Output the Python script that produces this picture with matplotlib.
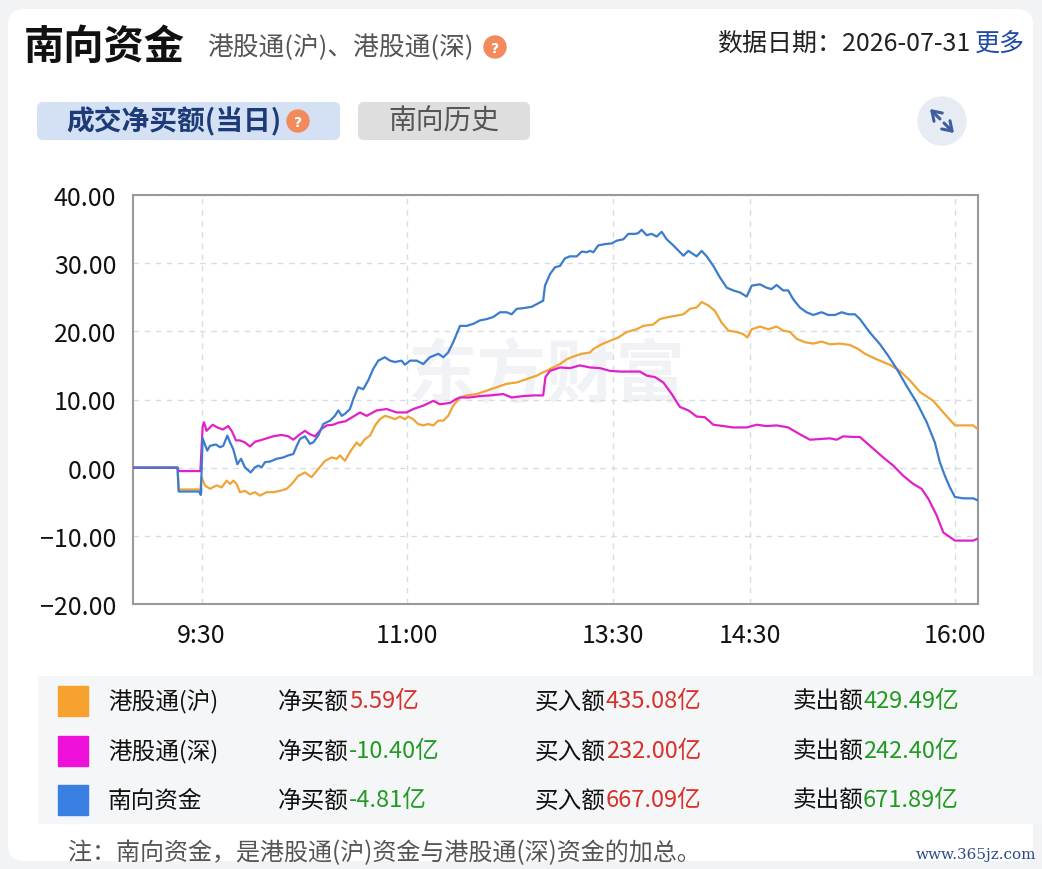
import matplotlib
matplotlib.use("Agg")
import matplotlib.pyplot as plt
from matplotlib.patches import FancyBboxPatch, Circle, Rectangle
from matplotlib.ticker import FuncFormatter

plt.rcParams['font.family'] = ['Noto Sans CJK SC', 'DejaVu Sans']

# x = 交易分钟序号, 0 = 9:00, 午休(12:00-13:00)被压缩, 370 = 16:10
x_ticks = [30, 120, 210, 270, 360]
x_tick_labels = ['9:30', '11:00', '13:30', '14:30', '16:00']
y_ticks = [-20, -10, 0, 10, 20, 30, 40]

# 港股通(沪)
sh_t = [0, 19.5, 20, 29.5, 30, 31.5, 33.7, 36.6, 38.8, 41.0,
        42.5, 43.9, 45.4, 46.8, 49.0, 51.2, 53.4, 55.6, 58.5, 61.4,
        64.4, 67.3, 69.5, 72.4, 75.3, 78.2, 81.1, 84.1, 87.0, 89.2,
        90.6, 92.8, 95.0, 97.9, 99.4, 101.6, 103.8, 106.0, 108.1, 110.3,
        112.5, 114.7, 116.9, 119.1, 120.5, 122.7, 124.9, 127.1, 129.3, 131.5,
        133.7, 135.9, 138.0, 140.2, 143.2, 146.1, 150.5, 154.9, 159.2, 163.6,
        168.0, 172.4, 176.8, 179.6, 181.1, 184.0, 187.0, 189.9, 192.8, 196.5,
        200.1, 201.6, 205.2, 208.8, 212.5, 216.2, 220.5, 223.4, 227.8, 230.7,
        234.4, 238.0, 241.0, 243.9, 246.8, 249.0, 251.9, 254.8, 257.7, 260.7,
        264.3, 267.2, 269.0, 270.9, 274.5, 278.2, 281.8, 284.7, 287.7, 290.6,
        294.2, 297.9, 301.5, 305.2, 309.5, 313.9, 317.6, 320.5, 325.6, 331.4,
        335.8, 340.2, 344.6, 350.4, 354.8, 359.9, 363.5, 367.9, 370]
sh_v = [0, 0, -3.2, -3.2, -1.4, -2.6, -3.1, -2.6, -2.9, -1.9,
        -2.4, -1.9, -2.4, -3.6, -3.4, -3.9, -3.6, -4.1, -3.6, -3.6,
        -3.4, -3.1, -2.4, -1.2, -0.7, -1.4, -0.2, 1.0, 1.5, 1.3,
        1.8, 1.0, 2.3, 3.7, 3.2, 4.2, 4.7, 6.2, 7.1, 7.6,
        7.4, 7.1, 7.5, 7.1, 7.5, 7.1, 6.4, 6.2, 6.4, 6.2,
        6.9, 6.9, 7.6, 9.1, 10.3, 10.6, 10.8, 11.3, 11.8, 12.3,
        12.5, 13.0, 13.5, 14.0, 14.2, 14.7, 15.2, 15.9, 16.3, 16.7,
        16.9, 17.4, 18.1, 18.6, 19.1, 19.9, 20.3, 20.8, 21.0, 21.8,
        22.1, 22.3, 22.5, 23.3, 23.5, 24.3, 23.8, 23.0, 21.3, 20.1,
        19.9, 19.6, 19.1, 20.3, 20.7, 20.3, 20.7, 20.1, 19.9, 18.9,
        18.4, 18.2, 18.5, 18.1, 18.2, 18.0, 17.4, 16.7, 15.9, 15.1,
        14.2, 12.8, 11.1, 9.8, 8.1, 6.2, 6.2, 6.2, 5.59]

# 港股通(深)
sz_t = [0, 19.5, 20, 29.5, 30.5, 31.1, 32.2, 34.9, 36.9, 39.3,
        41.7, 43.2, 45.1, 46.8, 49.0, 51.2, 53.4, 55.6, 58.5, 61.4,
        65.1, 68.0, 70.2, 73.1, 75.3, 77.5, 79.7, 82.6, 84.8, 87.7,
        89.9, 93.0, 96.5, 99.4, 102.3, 106.7, 111.1, 115.5, 119.8, 122.7,
        127.1, 131.5, 134.4, 138.8, 141.7, 143.2, 147.5, 151.9, 156.3, 162.1,
        165.8, 170.9, 175.3, 179.6, 180.6, 182.6, 187.0, 191.3, 195.7, 200.1,
        204.5, 208.8, 213.2, 217.6, 222.0, 224.9, 228.5, 232.2, 235.9, 239.5,
        243.2, 246.8, 250.4, 254.1, 258.5, 262.8, 268.7, 273.1, 277.4, 281.8,
        286.9, 292.0, 296.4, 300.8, 305.2, 308.1, 311.0, 315.4, 318.3, 322.7,
        328.5, 332.9, 337.3, 341.7, 345.3, 348.3, 351.9, 354.8, 359.9, 365.0, 367.9, 370]
sz_v = [0, 0, -0.5, -0.5, 6.0, 6.65, 5.4, 6.3, 5.9, 5.6,
        6.1, 5.4, 4.0, 4.0, 3.7, 3.1, 3.8, 4.0, 4.3, 4.6,
        4.8, 4.6, 4.1, 4.9, 5.4, 4.9, 4.6, 5.7, 6.2, 6.3,
        6.6, 6.8, 7.5, 8.1, 7.6, 8.4, 8.6, 8.1, 8.1, 8.6,
        9.1, 9.8, 9.3, 9.5, 10.1, 10.3, 10.3, 10.5, 10.6, 10.8,
        10.3, 10.5, 10.6, 10.6, 13.3, 14.2, 14.7, 14.6, 15.0, 14.7,
        14.6, 14.2, 14.1, 14.1, 14.1, 13.5, 13.3, 12.5, 10.8, 8.9,
        8.4, 7.5, 7.4, 6.3, 6.1, 5.9, 5.9, 6.3, 6.1, 6.2,
        5.9, 4.9, 4.1, 4.2, 4.3, 4.1, 4.6, 4.5, 4.5, 3.2,
        1.5, 0.3, -1.2, -2.4, -3.1, -4.6, -7.0, -9.5, -10.7, -10.7, -10.7, -10.40]

# 南向资金
nb_t = [0, 19.5, 20, 29.0, 29.7, 30.5, 32.5, 33.7, 36.3, 38.1,
        39.5, 41.3, 42.5, 43.9, 45.7, 47.3, 49.0, 51.5, 53.4, 54.9,
        56.3, 57.8, 60.0, 62.9, 65.8, 68.0, 70.2, 71.7, 73.1, 75.3,
        77.5, 78.9, 81.1, 83.3, 86.3, 88.4, 89.9, 91.4, 92.8, 95.0,
        96.5, 98.6, 100.8, 103.0, 105.2, 107.4, 110.3, 112.5, 114.7, 117.6,
        119.1, 121.3, 124.2, 127.1, 130.0, 133.7, 135.9, 138.0, 140.2, 143.2,
        146.1, 149.0, 151.9, 154.9, 157.7, 160.7, 163.6, 165.8, 168.0, 170.9,
        174.6, 176.8, 179.6, 180.4, 182.6, 184.8, 187.0, 189.1, 191.3, 194.3,
        196.5, 198.6, 200.1, 201.6, 203.7, 206.7, 209.6, 211.8, 214.7, 216.9,
        219.8, 221.2, 222.7, 224.9, 227.1, 229.3, 231.5, 233.7, 236.6, 241.0,
        243.2, 246.8, 249.0, 251.2, 254.1, 257.0, 260.0, 262.8, 265.8, 268.7,
        270.9, 274.5, 277.4, 279.6, 281.8, 284.7, 286.9, 289.1, 292.0, 294.9,
        297.9, 301.5, 304.4, 307.4, 310.3, 313.2, 316.1, 318.3, 322.7, 327.1,
        330.7, 334.4, 338.7, 343.1, 347.5, 351.1, 353.3, 355.5, 357.7, 359.9, 363.5, 367.9, 370]
nb_v = [0, 0, -3.5, -3.5, -4.0, 4.3, 2.5, 3.2, 3.4, 3.0,
        3.2, 4.7, 3.7, 2.7, 0.5, 1.3, 0.05, -0.7, 0.05, 0.3,
        0.05, 0.8, 0.9, 1.3, 1.5, 1.8, 2.0, 3.2, 4.2, 4.6,
        3.5, 3.7, 4.7, 6.4, 6.9, 7.6, 8.4, 7.6, 7.9, 8.6,
        10.1, 11.8, 11.5, 12.8, 14.5, 15.7, 16.2, 15.7, 15.5, 15.7,
        15.1, 15.7, 15.7, 15.2, 16.2, 16.7, 16.2, 16.9, 18.4, 20.8,
        20.8, 21.1, 21.6, 21.8, 22.1, 22.8, 22.8, 22.5, 23.3, 23.4,
        23.6, 24.0, 24.5, 26.7, 28.4, 29.4, 29.6, 30.7, 31.0, 31.0,
        31.7, 31.6, 31.8, 31.6, 32.6, 32.8, 32.9, 33.3, 33.5, 34.3,
        34.3, 34.4, 34.9, 34.1, 34.3, 33.9, 34.6, 33.5, 32.6, 31.1,
        31.8, 31.0, 31.8, 31.0, 29.6, 27.9, 26.4, 26.0, 25.7, 25.1,
        26.7, 26.9, 26.4, 26.2, 26.8, 26.0, 26.0, 24.7, 23.5, 22.8,
        22.4, 22.8, 22.4, 22.4, 22.8, 22.5, 22.5, 21.8, 19.8, 18.1,
        16.4, 14.5, 12.0, 9.6, 6.7, 3.7, 0.8, -1.2, -2.9, -4.3, -4.5, -4.5, -4.81]

# 下方表格
names = ['港股通(沪)', '港股通(深)', '南向资金']
net_buy = [5.59, -10.40, -4.81]
buy_amt = [435.08, 232.00, 667.09]
sell_amt = [429.49, 242.40, 671.89]

line_colors = ['#f0a436', '#e020c8', '#3b7ccc']
box_colors = ['#f7a22e', '#ee10d8', '#3a80e2']
red = '#d8312a'
green = '#229a22'

fig = plt.figure(figsize=(10.42, 8.7), dpi=100)

# 背景层, 像素坐标
bg = fig.add_axes([0, 0, 1, 1])
bg.set_xlim(0, 1042)
bg.set_ylim(870, 0)
bg.axis('off')
bg.add_patch(Rectangle((0, 0), 1042, 870, color='#f2f3f5', zorder=0))
bg.add_patch(FancyBboxPatch((8, 10), 1025, 852, boxstyle='round,pad=0,rounding_size=16',
                            fc='white', ec='none', zorder=1))


def qmark(x, y):
    bg.add_patch(Circle((x, y), 11, color='#f28a5c', zorder=3))
    bg.text(x, y + 1, '?', color='white', fontsize=10, fontweight='bold',
            ha='center', va='center', zorder=4, family='DejaVu Sans')


# 标题
bg.text(24, 47, '南向资金', fontsize=29, fontweight='bold', color='#111111', va='center', zorder=3)
bg.text(207, 48, '港股通(沪)、港股通(深)', fontsize=18.5, color='#555555', va='center', zorder=3)
qmark(495, 48)
bg.text(1025, 44, '更多', fontsize=18, color='#1e4aa8', ha='right', va='center', zorder=3)
bg.text(970, 44, '数据日期：2026-07-31', fontsize=18, color='#222222', ha='right', va='center', zorder=3)

# 按钮
bg.add_patch(FancyBboxPatch((37, 103), 303, 38, boxstyle='round,pad=0,rounding_size=6',
                            fc='#d4e1f4', ec='none', zorder=2))
bg.text(66, 122, '成交净买额(当日)', fontsize=20, fontweight='bold', color='#1d3b78',
        va='center', zorder=3)
qmark(298, 122)
bg.add_patch(FancyBboxPatch((358, 103), 172, 38, boxstyle='round,pad=0,rounding_size=6',
                            fc='#dedede', ec='none', zorder=2))
bg.text(444, 122, '南向历史', fontsize=20, color='#555555', ha='center', va='center', zorder=3)

# 放大图标
bg.add_patch(Circle((942, 122), 24, color='#e7ecf4', zorder=2))
for x0, y0, x1, y1 in [(940, 120, 930, 110), (944, 124, 954, 134)]:
    bg.annotate('', xy=(x1, y1), xytext=(x0, y0), zorder=3,
                arrowprops=dict(arrowstyle='->,head_length=0.45,head_width=0.3',
                                color='#3e5e9c', lw=2.2, mutation_scale=14,
                                shrinkA=0, shrinkB=0))

# 图表
ax = fig.add_axes([133 / 1042, 1 - 605 / 870, 845 / 1042, 409 / 870])
ax.text(0.49, 0.56, '东方财富', transform=ax.transAxes, fontsize=50, fontweight='bold',
        color='#f1f2f5', ha='center', va='center', zorder=0)
ax.plot(sh_t, sh_v, color=line_colors[0], lw=1.6, zorder=3)
ax.plot(sz_t, sz_v, color=line_colors[1], lw=1.6, zorder=3)
ax.plot(nb_t, nb_v, color=line_colors[2], lw=1.6, zorder=4)

ax.set_xlim(0, 370)
ax.set_ylim(-20, 40)
ax.set_xticks(x_ticks)
ax.set_xticklabels(x_tick_labels)
ax.set_yticks(y_ticks)
ax.yaxis.set_major_formatter(FuncFormatter(lambda v, p: f'{v:.2f}'.replace('-', '\u2212')))
ax.grid(True, ls=(0, (4, 4)), color='#d6dde8', lw=1)
ax.tick_params(length=0, labelsize=18, colors='#111111')
ax.tick_params(axis='y', pad=12)
ax.tick_params(axis='x', pad=13)
for s in ax.spines.values():
    s.set_color('#9a9a9a')
    s.set_linewidth(1.5)

# 表格
bg.add_patch(Rectangle((38, 677), 1004, 148, fc='#f5f6f8', ec='none', zorder=1))
row_y = [702, 752, 801]
for i in range(3):
    y = row_y[i]
    bg.add_patch(Rectangle((58, y - 15), 30, 30, color=box_colors[i], zorder=2))
    bg.text(108, y, names[i], fontsize=17, color='#111111', va='center', zorder=3)
    bg.text(278, y, '净买额', fontsize=17, color='#111111', va='center', zorder=3)
    bg.text(349, y, f'{net_buy[i]:.2f}亿', fontsize=17, color=red if net_buy[i] > 0 else green,
            va='center', zorder=3)
    bg.text(535, y, '买入额', fontsize=17, color='#111111', va='center', zorder=3)
    bg.text(606, y, f'{buy_amt[i]:.2f}亿', fontsize=17, color=red, va='center', zorder=3)
    bg.text(792, y, '卖出额', fontsize=17, color='#111111', va='center', zorder=3)
    bg.text(863, y, f'{sell_amt[i]:.2f}亿', fontsize=17, color=green, va='center', zorder=3)

bg.text(68, 853, '注：南向资金，是港股通(沪)资金与港股通(深)资金的加总。', fontsize=17.3,
        color='#555555', va='center', zorder=3)
bg.text(1036, 855, 'www.365jz.com', fontsize=11, color='#2b4a8a', ha='right', va='center',
        family='DejaVu Serif', zorder=3)

fig.savefig('out.png', dpi=100)
